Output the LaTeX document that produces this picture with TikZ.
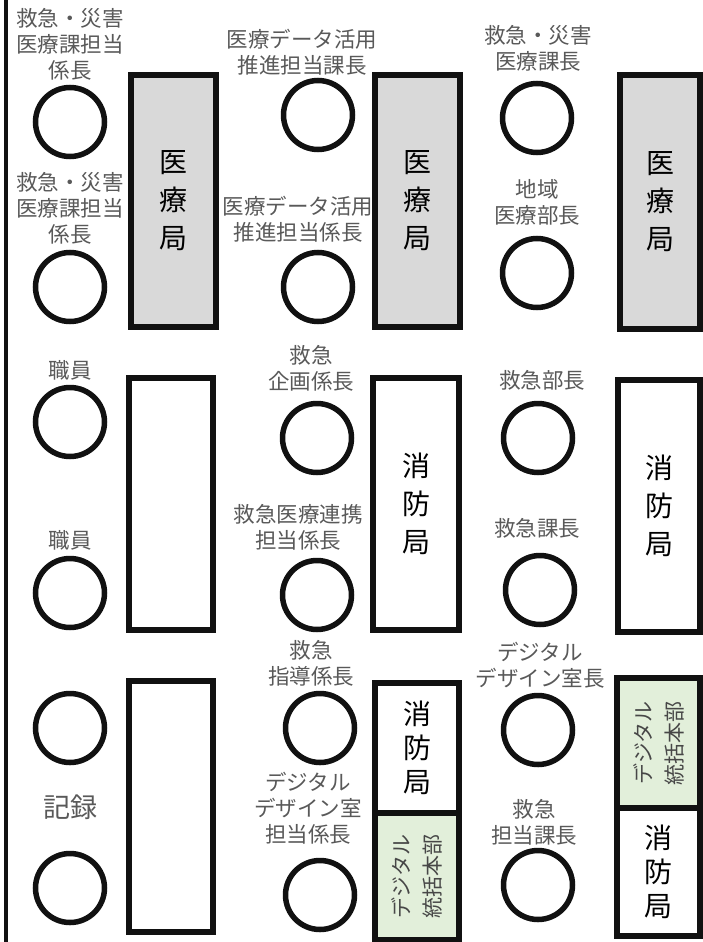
\documentclass[tikz,border=0pt]{standalone}
\usepackage{fontspec}
\setmainfont{Noto Sans CJK JP}
\definecolor{deskgray}{HTML}{D9D9D9}
\definecolor{deskgreen}{HTML}{E2EFDA}
\definecolor{labelgray}{HTML}{595959}
\definecolor{edge}{HTML}{111111}
\begin{document}
\begin{tikzpicture}[x=1pt,y=-1pt,
  seat/.style={circle, draw=edge, line width=5.5pt, minimum size=69pt, inner sep=0pt},
  desk/.style={rectangle, draw=edge, line width=5.5pt, inner sep=0pt, align=center, text=black, font=\fontsize{28}{38}\selectfont},
  desksm/.style={desk, font=\fontsize{28}{34}\selectfont},
  lbl/.style={align=center, text=labelgray, inner sep=0pt, font=\fontsize{21.5}{26}\selectfont},
  biglbl/.style={align=center, text=labelgray, inner sep=0pt, font=\fontsize{27}{30}\selectfont},
  greentxt/.style={rotate=90, align=center, text=labelgray!80!black, inner sep=0pt, font=\fontsize{21}{31}\selectfont}]
\useasboundingbox (0,0) rectangle (702,942);
% wall
\draw[line width=4pt, edge] (6,0) -- (6,942);
% desks
\node[desk, fill=deskgray, minimum width=85pt, minimum height=252pt] (r1a) at (173.5,201) {医\\療\\局};
\node[desk, fill=deskgray, minimum width=85pt, minimum height=252pt] (r2a) at (417.5,201) {医\\療\\局};
\node[desk, fill=deskgray, minimum width=80pt, minimum height=254pt] (r3a) at (660,202) {医\\療\\局};
\node[desk, fill=white, minimum width=84pt, minimum height=252pt] (r1b) at (171,504) {};
\node[desk, fill=white, minimum width=86pt, minimum height=252pt] (r2b) at (416,504) {消\\防\\局};
\node[desk, fill=white, minimum width=82pt, minimum height=252pt] (r3b) at (659,506) {消\\防\\局};
\node[desk, fill=white, minimum width=84pt, minimum height=251pt] (r1c) at (171,806.5) {};
\node[desksm, fill=white, minimum width=84pt, minimum height=130pt] (r2c) at (417,748) {消\\防\\局};
\node[desk, fill=deskgreen, minimum width=84pt, minimum height=127pt] (g2) at (417,876.5) {};
\node[greentxt] (g2t) at (g2) {デジタル\\統括本部};
\node[desk, fill=deskgreen, minimum width=83pt, minimum height=130pt] (g3) at (658.5,743) {};
\node[greentxt] (g3t) at (g3) {デジタル\\統括本部};
\node[desksm, fill=white, minimum width=83pt, minimum height=128pt] (r3c) at (658.5,872) {消\\防\\局};
% seats column 1
\node[seat] (s11) at (70,122) {};
\node[seat] (s12) at (70,287) {};
\node[seat] (s13) at (70,422) {};
\node[seat] (s14) at (70,593) {};
\node[seat] (s15) at (70,728) {};
\node[seat] (s16) at (70,888) {};
% seats column 2
\node[seat] (s21) at (318,115) {};
\node[seat] (s22) at (318,287) {};
\node[seat] (s23) at (317,438) {};
\node[seat] (s24) at (317,595) {};
\node[seat] (s25) at (320,728) {};
\node[seat] (s26) at (320,895) {};
% seats column 3
\node[seat] (s31) at (537,118) {};
\node[seat] (s32) at (537,273) {};
\node[seat] (s33) at (538,438) {};
\node[seat] (s34) at (540,590) {};
\node[seat] (s35) at (538,730) {};
\node[seat] (s36) at (538,885) {};
% labels column 1
\node[lbl] (l11) at (70,44) {救急・災害\\医療課担当\\係長};
\node[lbl] (l12) at (70,208) {救急・災害\\医療課担当\\係長};
\node[lbl] (l13) at (70,370) {職員};
\node[lbl] (l14) at (70,540) {職員};
\node[biglbl] (l15) at (70,807) {記録};
% labels column 2
\node[lbl] (l21) at (302,52) {医療データ活用\\推進担当課長};
\node[lbl] (l22) at (298,219) {医療データ活用\\推進担当係長};
\node[lbl] (l23) at (311,368) {救急\\企画係長};
\node[lbl] (l24) at (298,527) {救急医療連携\\担当係長};
\node[lbl] (l25) at (311,663) {救急\\指導係長};
\node[lbl] (l26) at (308,808) {デジタル\\デザイン室\\担当係長};
% labels column 3
\node[lbl] (l31) at (538,48) {救急・災害\\医療課長};
\node[lbl] (l32) at (537,202) {地域\\医療部長};
\node[lbl] (l33) at (542,380) {救急部長};
\node[lbl] (l34) at (537,528) {救急課長};
\node[lbl] (l35) at (540,665) {デジタル\\デザイン室長};
\node[lbl] (l36) at (534,822) {救急\\担当課長};
\end{tikzpicture}
\end{document}
